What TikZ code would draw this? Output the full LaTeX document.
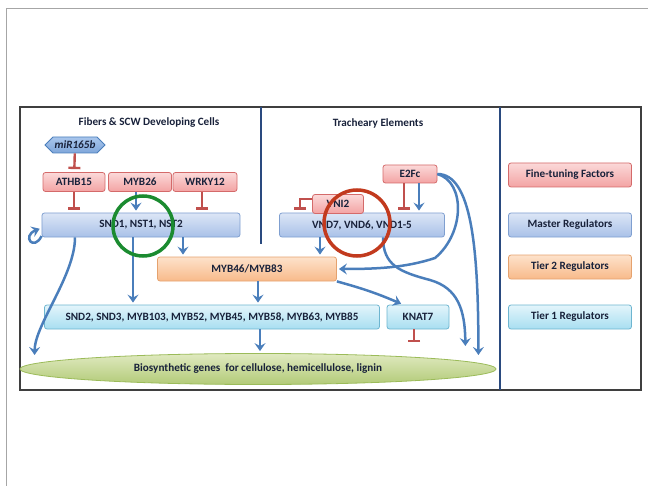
\documentclass[tikz,border=0pt]{standalone}
\usepackage{fontspec}
\setmainfont{Carlito}
\usepackage{xcolor}
\usetikzlibrary{arrows.meta}
\usetikzlibrary{shapes.geometric, shapes.symbols}
\definecolor{txtcol}{HTML}{18213A}
\definecolor{actblue}{HTML}{4A7EBB}
\definecolor{inhred}{HTML}{C0504D}
\definecolor{finetop}{HTML}{FBD9D9}
\definecolor{finebot}{HTML}{F3A3A3}
\definecolor{finedraw}{HTML}{D46A6A}
\definecolor{mastop}{HTML}{DCE6F6}
\definecolor{masbot}{HTML}{A9C1E8}
\definecolor{masdraw}{HTML}{7F9FD0}
\definecolor{t2top}{HTML}{FDE2CB}
\definecolor{t2bot}{HTML}{F8BA8A}
\definecolor{t2draw}{HTML}{E5A26E}
\definecolor{t1top}{HTML}{E3F5FB}
\definecolor{t1bot}{HTML}{A8DEF1}
\definecolor{t1draw}{HTML}{6DB5D0}
\definecolor{biotop}{HTML}{E0EAC0}
\definecolor{biobot}{HTML}{B2CA78}
\definecolor{biodraw}{HTML}{9BBB59}
\definecolor{mirtop}{HTML}{A9C6EC}
\definecolor{mirbot}{HTML}{7FA6DA}
\definecolor{framecol}{HTML}{3F3F3F}
\definecolor{divcol}{HTML}{2A4A7F}
\definecolor{ringgreen}{HTML}{1B8B30}
\definecolor{ringred}{HTML}{C23A1E}

\begin{document}
\begin{tikzpicture}[x=1bp,y=-1bp,
    every node/.style={font=\fontsize{11.2}{13}\selectfont\bfseries, text=txtcol},
    regbox/.style={rectangle, rounded corners=2.5bp, line width=0.8bp, inner sep=1bp},
    fine/.style={regbox, draw=finedraw, top color=finetop, bottom color=finebot, minimum height=19bp},
    master/.style={regbox, draw=masdraw, top color=mastop, bottom color=masbot, minimum height=24bp},
    tiertwo/.style={regbox, draw=t2draw, top color=t2top, bottom color=t2bot, minimum height=24bp},
    tierone/.style={regbox, draw=t1draw, top color=t1top, bottom color=t1bot, minimum height=24bp},
    act/.style={draw=actblue, line width=2.5bp, shorten >=2bp, -{Stealth[length=8bp,width=11bp,inset=3bp]}},
    inh/.style={draw=inhred, line width=2.4bp, shorten >=3bp, -{Bar[width=12bp,line width=2.4bp]}},
    ring/.style={line width=3.5bp}]
    \useasboundingbox (0,0) rectangle (648,486);
    \def\ytop{107}
    \def\ybot{390}

    % FRAMES
    \draw[gray!70, line width=0.8bp] (6,486) -- (6,8) -- (648,8);
    \draw[framecol, line width=1.8bp] (20,\ytop) rectangle (641,\ybot);
    \draw[divcol, line width=1.5bp] (261,\ytop) -- (261,244);
    \draw[divcol, line width=1.5bp] (500,\ytop) -- (500,\ybot);
    \node at (149,123) {Fibers \& SCW Developing Cells};
    \node at (378,123) {Tracheary Elements};

    % FIBERS
    \node[signal, signal to=west and east, draw=actblue, line width=0.8bp, top color=mirtop, bottom color=mirbot,
      minimum width=60bp, minimum height=16bp, inner sep=1bp, font=\fontsize{11.2}{13}\selectfont\bfseries\itshape] (mir) at (75,145) {miR165b};
    \node[fine, minimum width=62bp] (athb) at (74,182) {ATHB15};
    \node[fine, minimum width=63bp] (myb26) at (140,182) {MYB26};
    \node[fine, minimum width=64bp] (wrky) at (205,182) {WRKY12};
    \node[master, minimum width=198bp] (snd) at (141,225) {SND1, NST1, NST2};

    % TRACHEARY
    \node[fine, minimum width=54bp, minimum height=18bp] (e2fc) at (410,174) {E2Fc};
    \node[master, minimum width=165bp] (vnd) at (362,225) {VND7, VND6, VND1-5};
    \node[fine, minimum width=51bp] (vni) at (338,204) {VNI2};

    % TIERS
    \node[tiertwo, minimum width=179bp] (myb46) at (247,269) {MYB46/MYB83};
    \node[tierone, minimum width=335bp] (tier1) at (212,317) {SND2, SND3, MYB103, MYB52, MYB45, MYB58, MYB63, MYB85};
    \node[tierone, minimum width=62bp] (knat) at (418,317) {KNAT7};
    \node[ellipse, draw=biodraw, line width=0.8bp, top color=biotop, bottom color=biobot,
      minimum width=476bp, minimum height=31bp, inner sep=0pt] (bio) at (258,369) {Biosynthetic genes\ \ for cellulose, hemicellulose, lignin};

    % LEGEND
    \node[fine, minimum width=123bp, minimum height=24bp] (lgfine) at (570,175) {Fine-tuning Factors};
    \node[master, minimum width=123bp] (lgmaster) at (570,225) {Master Regulators};
    \node[tiertwo, minimum width=123bp] (lgtwo) at (570,267) {Tier 2 Regulators};
    \node[tierone, minimum width=123bp] (lgone) at (570,317) {Tier 1 Regulators};

    % REGULATION
    \draw[inh] (mir) -- (athb);
    \draw[inh] (athb.south) -- (athb.south |- snd.north);
    \draw[inh] ([xshift=-3bp]wrky.south) -- ([xshift=-3bp]wrky.south |- snd.north);
    \draw[act] ([xshift=-4bp]myb26.south) -- ([xshift=-4bp]myb26.south |- snd.north);
    \draw[act] ([yshift=-11bp]snd.west) .. controls +(-8,16) and +(-20,8) .. ([yshift=-3bp]snd.west);
    \draw[act] ([xshift=-66bp]snd.south) .. controls +(0,38) and +(0,-32) .. ([xshift=15bp,yshift=12bp]bio.west);
    \draw[act] ([xshift=-8bp]snd.south) -- ([xshift=-8bp]snd.south |- tier1.north);
    \draw[act] ([xshift=42bp]snd.south) -- ([xshift=42bp]snd.south |- myb46.north);
    \draw[act] ([xshift=-42bp]vnd.south) -- ([xshift=-42bp]vnd.south |- myb46.north);
    \draw[inh] ([yshift=5bp]vni.west) -| ([xshift=-12bp]vni.west |- vnd.north);
    \draw[inh] ([xshift=-6bp]e2fc.south) -- ([xshift=-6bp]e2fc.south |- vnd.north);
    \draw[act] ([xshift=9bp]e2fc.south) -- ([xshift=9bp]e2fc.south |- vnd.north);
    \draw[act] (e2fc.east) .. controls +(34,0) and +(0,-110) .. ([xshift=-18bp,yshift=12bp]bio.east);
    \draw[act] (e2fc.east) .. controls +(28,8) and +(30,-25) .. (435,258) .. controls (405,268) and (375,269) .. (myb46.east);
    \draw[act] ([xshift=21bp]vnd.south) .. controls +(0,28) and +(-30,-8) .. (430,280) .. controls (458,288) and (465,310) .. ([xshift=-31bp,yshift=21bp]bio.east);
    \draw[act] ([xshift=11bp]myb46.south) -- ([xshift=11bp]myb46.south |- tier1.north);
    \draw[act] (myb46.south east) to[bend left=4] ([xshift=-15bp]knat.north);
    \draw[act] ([xshift=48bp]tier1.south) -- ([xshift=48bp]tier1.south |- bio.north);
    \draw[inh] ([xshift=-4bp]knat.south) -- ++(0,16);

    % HIGHLIGHTS
    \draw[ring, ringgreen] (143,226) circle[radius=30];
    \draw[ring, ringred] (357,223) circle[radius=33];
  \end{tikzpicture}
\end{document}
